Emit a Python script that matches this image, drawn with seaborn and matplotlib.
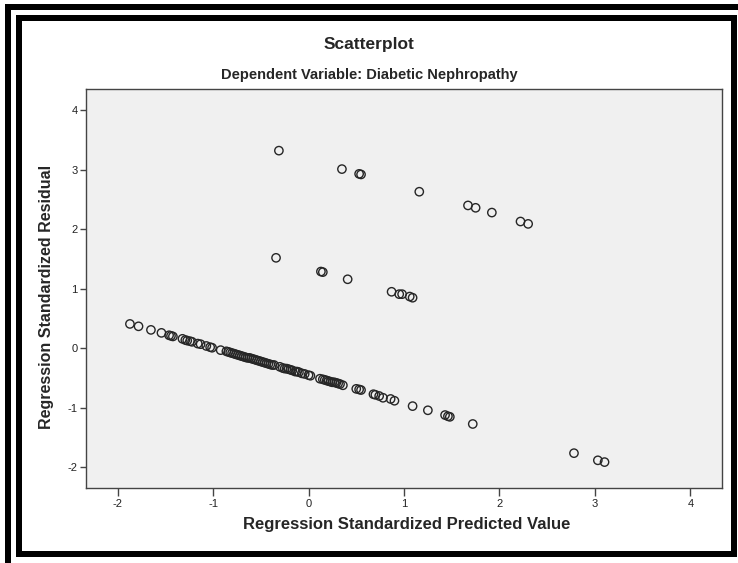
import matplotlib
matplotlib.use("Agg")
import matplotlib.pyplot as plt
from matplotlib.lines import Line2D
import seaborn as sns
import pandas as pd

# ---- data ----
# main band (lowest)
line_x = [-1.87, -1.78, -1.65, -1.54, -1.46, -1.44, -1.42, -1.32, -1.29, -1.27,
          -1.24, -1.22, -1.16, -1.13, -1.07, -1.03, -1.01, -0.92, -0.86, -0.84,
          -0.82, -0.80, -0.78, -0.76, -0.74, -0.72, -0.70, -0.68, -0.66, -0.64,
          -0.62, -0.60, -0.58, -0.56, -0.54, -0.52, -0.50, -0.48, -0.46, -0.44,
          -0.42, -0.40, -0.38, -0.36, -0.30, -0.27, -0.25, -0.23, -0.21, -0.19,
          -0.17, -0.14, -0.12, -0.10, -0.07, -0.04, 0.00, 0.02, 0.12, 0.15,
          0.17, 0.19, 0.21, 0.23, 0.25, 0.27, 0.29, 0.31, 0.33, 0.36,
          0.50, 0.53, 0.55, 0.68, 0.70, 0.74, 0.78, 0.86, 0.90, 1.09,
          1.25, 1.43, 1.46, 1.48, 1.72, 2.78, 3.03, 3.10]
line_y = [0.41, 0.37, 0.31, 0.26, 0.22, 0.21, 0.20, 0.16, 0.14, 0.13,
          0.12, 0.11, 0.08, 0.07, 0.04, 0.02, 0.01, -0.03, -0.05, -0.06,
          -0.07, -0.08, -0.09, -0.10, -0.11, -0.12, -0.13, -0.14, -0.15, -0.16,
          -0.16, -0.17, -0.18, -0.19, -0.20, -0.21, -0.22, -0.23, -0.24, -0.25,
          -0.26, -0.27, -0.28, -0.28, -0.31, -0.33, -0.34, -0.34, -0.35, -0.36,
          -0.37, -0.39, -0.39, -0.40, -0.42, -0.43, -0.45, -0.46, -0.51, -0.52,
          -0.53, -0.54, -0.55, -0.56, -0.57, -0.57, -0.58, -0.59, -0.60, -0.62,
          -0.68, -0.69, -0.70, -0.77, -0.78, -0.80, -0.83, -0.85, -0.88, -0.97,
          -1.04, -1.12, -1.14, -1.15, -1.27, -1.76, -1.88, -1.91]
# middle band
mid_x = [-0.34, 0.13, 0.15, 0.41, 0.87, 0.95, 0.98, 1.06, 1.09]
mid_y = [1.52, 1.29, 1.28, 1.16, 0.95, 0.91, 0.91, 0.87, 0.85]
# upper band
top_x = [-0.31, 0.35, 0.53, 0.55, 1.16, 1.67, 1.75, 1.92, 2.22, 2.30]
top_y = [3.32, 3.01, 2.93, 2.92, 2.63, 2.40, 2.36, 2.28, 2.13, 2.09]

x_ticks = [-2, -1, 0, 1, 2, 3, 4]
y_ticks = [-2, -1, 0, 1, 2, 3, 4]

title = "Scatterplot"
subtitle = "Dependent Variable: Diabetic Nephropathy"
xlabel = "Regression Standardized Predicted Value"
ylabel = "Regression Standardized Residual"

df = pd.DataFrame({
    "pred": line_x + mid_x + top_x,
    "resid": line_y + mid_y + top_y,
})

# ---- figure ----
W, H = 738, 563
sns.set_style("white", {"axes.facecolor": "#F0F0F0", "axes.edgecolor": "#444444"})
plt.rcParams["font.family"] = ["Liberation Sans", "DejaVu Sans"]

fig = plt.figure(figsize=(W / 100, H / 100), dpi=100)
fig.patch.set_facecolor("white")

def fx(px):
    return px / W

def fy(py):
    return 1 - py / H

left, right, top, bottom = 86, 722, 89, 488
ax = fig.add_axes([fx(left), fy(bottom), fx(right) - fx(left), fy(top) - fy(bottom)])

sns.scatterplot(data=df, x="pred", y="resid", ax=ax, marker="o", s=36,
                facecolor="none", edgecolor="#262626", linewidth=1.0, legend=False)

ax.set_xlim(-2.33, 4.33)
ax.set_ylim(-2.345, 4.355)
ax.set_xticks(x_ticks)
ax.set_yticks(y_ticks)
ax.set_xticklabels([str(t) for t in x_ticks])
ax.set_yticklabels([str(t) for t in y_ticks])
ax.tick_params(axis="x", direction="out", length=6, width=1.0, color="#444444",
               labelsize=8, labelcolor="#222222", pad=2, bottom=True)
ax.tick_params(axis="y", direction="out", length=4, width=1.0, color="#444444",
               labelsize=8, labelcolor="#222222", pad=2, left=True)
for s in ax.spines.values():
    s.set_linewidth(1.0)
    s.set_color("#444444")

ax.set_xlabel("")
ax.set_ylabel("")

fig.text(fx(369), fy(44), title, ha="center", va="center", fontsize=12.5, fontweight="bold")
fig.text(fx(369), fy(75), subtitle, ha="center", va="center", fontsize=10.5, fontweight="bold")
fig.text(fx(407), fy(525), xlabel, ha="center", va="center", fontsize=12, fontweight="bold")
fig.text(fx(47), fy(297), ylabel, ha="center", va="center", fontsize=11.5,
         fontweight="bold", rotation=90)

# ---- black frames ----
lw = 6 * 72 / 100
frame = dict(color="black", linewidth=lw, solid_capstyle="butt", transform=fig.transFigure)
# outer partial frame
fig.add_artist(Line2D([fx(5), fx(738)], [fy(7), fy(7)], **frame))
fig.add_artist(Line2D([fx(8), fx(8)], [fy(4), fy(563)], **frame))
# inner frame
fig.add_artist(Line2D([fx(16), fx(737)], [fy(18), fy(18)], **frame))
fig.add_artist(Line2D([fx(16), fx(737)], [fy(554), fy(554)], **frame))
fig.add_artist(Line2D([fx(19), fx(19)], [fy(15), fy(557)], **frame))
fig.add_artist(Line2D([fx(734), fx(734)], [fy(15), fy(557)], **frame))

fig.savefig("out.png", dpi=100)
